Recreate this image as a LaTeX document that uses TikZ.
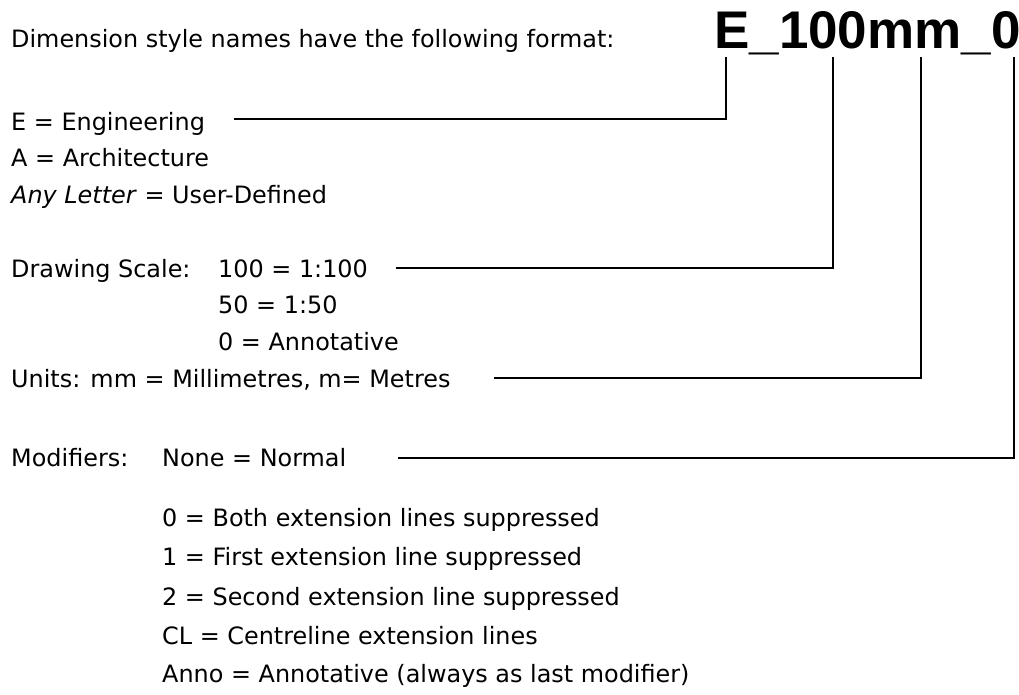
\documentclass[tikz,border=0pt]{standalone}
\usepackage{fontspec}
\setmainfont{DejaVu Sans}
\newfontfamily\namefont{Liberation Sans}
\usepackage{tikz}

\begin{document}
\begin{tikzpicture}[x=1pt,y=-1pt,
   txt/.style={anchor=base west,inner sep=0pt,
    font=\fontsize{23.9}{28}\selectfont},
   lead/.style={draw,line width=1.9pt}
   ]
  \useasboundingbox (0,0) rectangle (1019,694);

  % -- heading
  \node[txt] at (11,47) (head) {Dimension style names have the following format:};
  \node[anchor=base west,inner sep=0pt,
    font=\namefont\bfseries\fontsize{53}{60}\selectfont] at (714,48) (name) {E\_100mm\_0};

  % -- type
  \node[txt] at (11,130) (eng) {E = Engineering};
  \node[txt] at (11,166) (arch) {A = Architecture};
  \node[txt] at (11,203) (any) {\textit{Any Letter} = User-Defined};

  % -- scale
  \node[txt] at (11,277) (scl) {Drawing Scale:};
  \node[txt] at (218,277) (s100) {100 = 1:100};
  \node[txt] at (218,313) (s50) {50 = 1:50};
  \node[txt] at (218,350) (s0) {0 = Annotative};

  % -- units
  \node[txt] at (11,387) (units) {Units: mm = Millimetres, m= Metres};

  % -- modifiers
  \node[txt] at (11,466) (mods) {Modifiers:};
  \node[txt] at (162,466) (mnone) {None = Normal};
  \node[txt] at (162,526) (m0) {0 = Both extension lines suppressed};
  \node[txt] at (162,565) (m1) {1 = First extension line suppressed};
  \node[txt] at (162,605) (m2) {2 = Second extension line suppressed};
  \node[txt] at (162,644) (mcl) {CL = Centreline extension lines};
  \node[txt] at (162,682) (manno) {Anno = Annotative (always as last modifier)};

  % -- leaders
  \coordinate (tE) at (726,57);
  \coordinate (tS) at (833,57);
  \coordinate (tU) at (921,57);
  \coordinate (tM) at (1014,57);
  \coordinate (lE) at (234,119);
  \coordinate (lS) at (396,268);
  \coordinate (lU) at (494,378);
  \coordinate (lM) at (398,458);
  \draw[lead] (lE) -| (tE);
  \draw[lead] (lS) -| (tS);
  \draw[lead] (lU) -| (tU);
  \draw[lead] (lM) -| (tM);

\end{tikzpicture}
\end{document}
